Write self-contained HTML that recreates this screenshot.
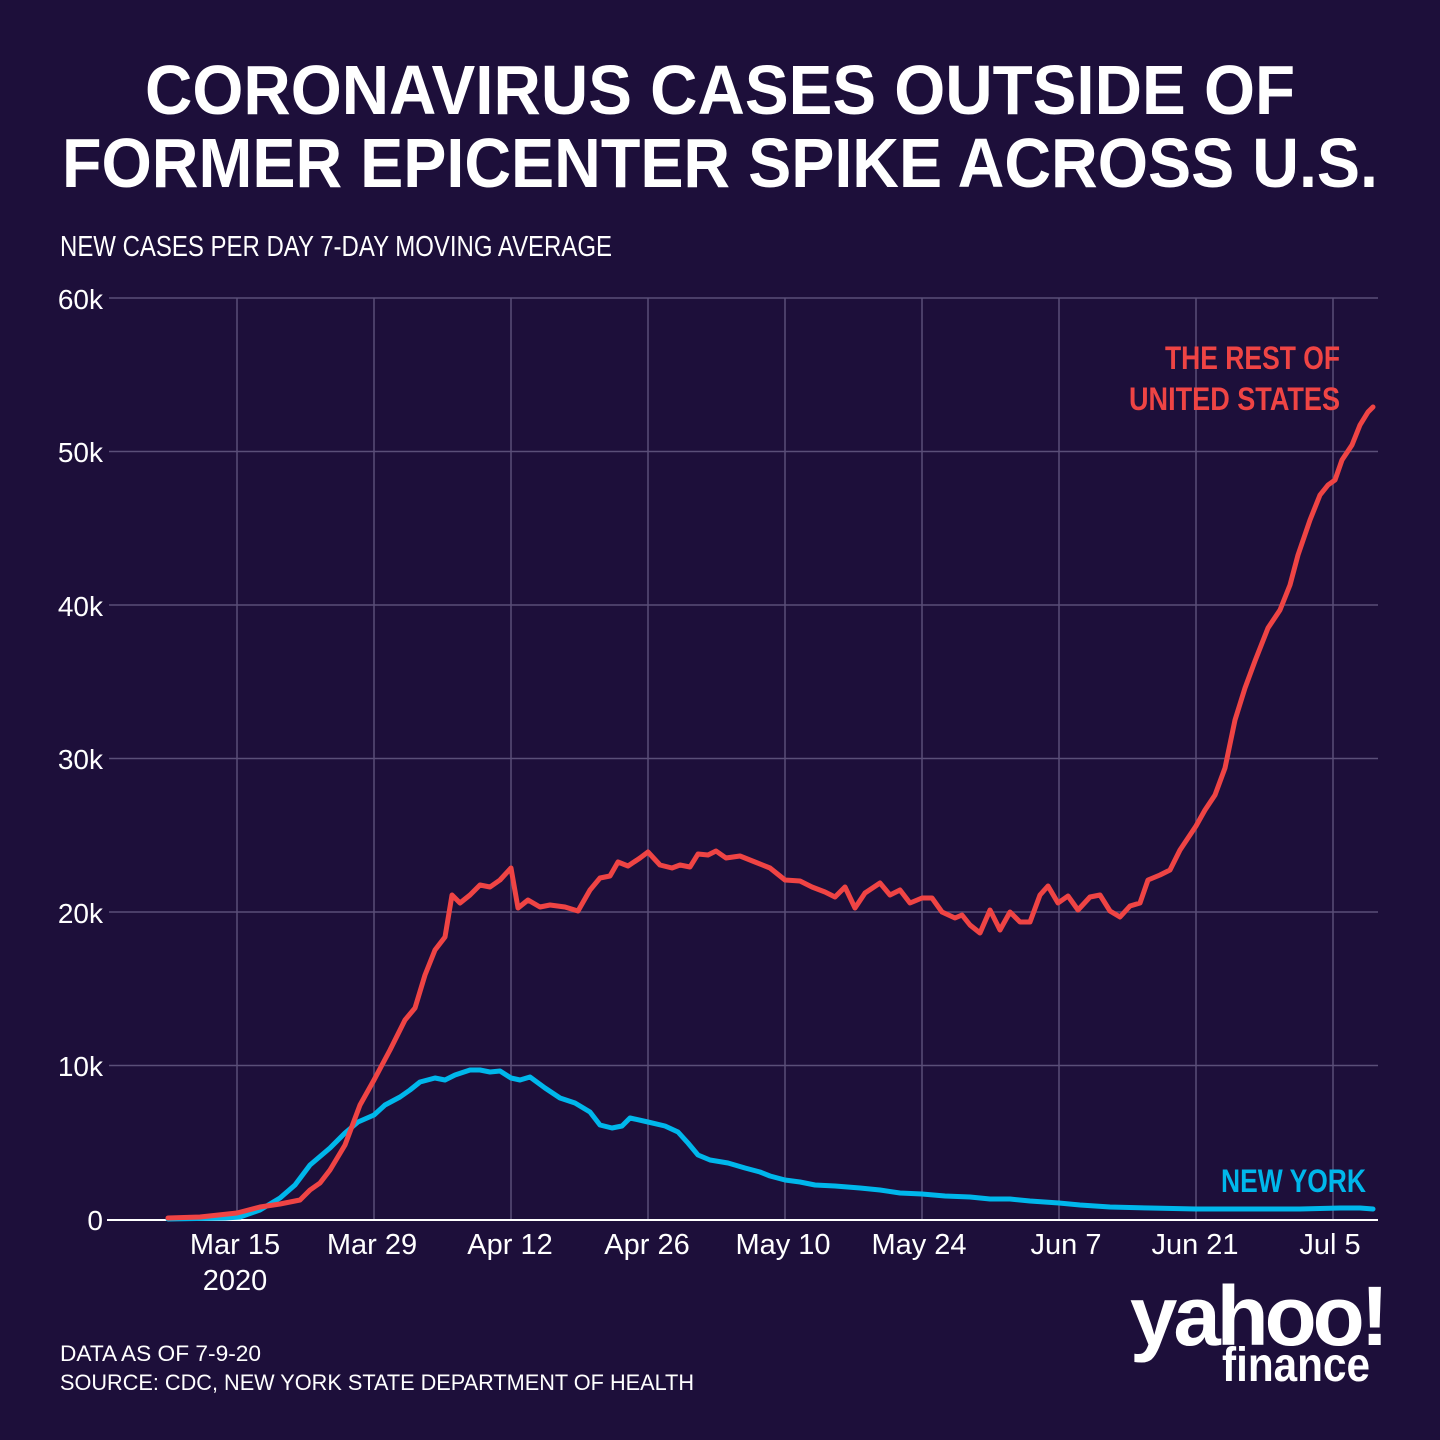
<!DOCTYPE html>
<html><head><meta charset="utf-8"><style>
html,body{margin:0;padding:0;background:#1d0f3a;}
svg{display:block;}
</style></head><body>
<svg width="1440" height="1440" viewBox="0 0 1440 1440" xmlns="http://www.w3.org/2000/svg">
<rect width="1440" height="1440" fill="#1d0f3a"/>
<g font-family="Liberation Sans, sans-serif" fill="#fff">
<text x="720" y="114" font-size="70" font-weight="bold" text-anchor="middle" textLength="1150" lengthAdjust="spacingAndGlyphs">CORONAVIRUS CASES OUTSIDE OF</text>
<text x="720" y="187" font-size="70" font-weight="bold" text-anchor="middle" textLength="1316" lengthAdjust="spacingAndGlyphs">FORMER EPICENTER SPIKE ACROSS U.S.</text>
<text x="60" y="256" font-size="29" textLength="552" lengthAdjust="spacingAndGlyphs">NEW CASES PER DAY 7-DAY MOVING AVERAGE</text>
</g>
<g stroke="#5a4f78" stroke-width="1.5">
<line x1="109" y1="298" x2="1378" y2="298"/>
<line x1="109" y1="451.5" x2="1378" y2="451.5"/>
<line x1="109" y1="605" x2="1378" y2="605"/>
<line x1="109" y1="758.5" x2="1378" y2="758.5"/>
<line x1="109" y1="912" x2="1378" y2="912"/>
<line x1="109" y1="1065.5" x2="1378" y2="1065.5"/>
<line x1="237" y1="298" x2="237" y2="1219"/>
<line x1="374" y1="298" x2="374" y2="1219"/>
<line x1="511" y1="298" x2="511" y2="1219"/>
<line x1="648" y1="298" x2="648" y2="1219"/>
<line x1="785" y1="298" x2="785" y2="1219"/>
<line x1="922" y1="298" x2="922" y2="1219"/>
<line x1="1059" y1="298" x2="1059" y2="1219"/>
<line x1="1196" y1="298" x2="1196" y2="1219"/>
<line x1="1333" y1="298" x2="1333" y2="1219"/>
</g>
<line x1="107" y1="1220" x2="1378" y2="1220" stroke="#fff" stroke-width="2"/>
<g font-family="Liberation Sans, sans-serif" fill="#fff" font-size="28" text-anchor="end">
<text x="103" y="309">60k</text>
<text x="103" y="462">50k</text>
<text x="103" y="616">40k</text>
<text x="103" y="769">30k</text>
<text x="103" y="923">20k</text>
<text x="103" y="1076">10k</text>
<text x="103" y="1230">0</text>
</g>
<g font-family="Liberation Sans, sans-serif" fill="#fff" font-size="29" text-anchor="middle">
<text x="235" y="1254">Mar 15</text>
<text x="235" y="1290">2020</text>
<text x="372" y="1254">Mar 29</text>
<text x="510" y="1254">Apr 12</text>
<text x="647" y="1254">Apr 26</text>
<text x="783" y="1254">May 10</text>
<text x="919" y="1254">May 24</text>
<text x="1066" y="1254">Jun 7</text>
<text x="1195" y="1254">Jun 21</text>
<text x="1330" y="1254">Jul 5</text>
</g>
<polyline fill="none" stroke="#00b7eb" stroke-width="5" stroke-linejoin="round" stroke-linecap="round" points="168,1219 225,1218 240,1217 260,1210 280,1198 295,1185 310,1165 330,1148 345,1133 358,1122 374,1115 385,1105 400,1097 410,1090 420,1082 435,1078 445,1080 455,1075 470,1070 480,1070 490,1072 500,1071 511,1078 520,1080 530,1077 545,1088 560,1098 575,1103 590,1112 600,1125 612,1128 622,1126 630,1118 648,1122 665,1126 678,1132 688,1143 698,1155 710,1160 728,1163 745,1168 760,1172 770,1176 785,1180 800,1182 815,1185 835,1186 860,1188 880,1190 900,1193 922,1194 945,1196 970,1197 990,1199 1010,1199 1030,1201 1059,1203 1080,1205 1110,1207 1150,1208 1196,1209 1250,1209 1300,1209 1340,1208 1360,1208 1373,1209"/>
<polyline fill="none" stroke="#ef4444" stroke-width="5" stroke-linejoin="round" stroke-linecap="round" points="168,1218 200,1217 237,1213 260,1207 280,1204 300,1200 310,1190 320,1183 330,1170 345,1145 360,1105 374,1080 390,1050 405,1020 415,1008 425,975 435,950 445,937 452,895 460,903 470,895 480,885 490,887 500,880 511,868 518,908 528,900 540,907 550,905 565,907 578,911 590,890 600,878 610,876 618,862 628,866 640,858 648,852 660,865 672,868 680,865 690,867 698,854 708,855 716,851 726,858 740,856 755,862 770,868 785,880 800,881 812,887 825,892 835,897 845,887 855,908 865,893 880,883 890,895 900,890 910,903 922,898 932,898 942,912 955,918 962,915 970,925 980,933 990,910 1000,930 1010,912 1020,922 1030,922 1040,895 1048,886 1058,903 1068,896 1078,910 1090,897 1100,895 1110,911 1120,917 1130,906 1140,903 1148,880 1160,875 1170,870 1180,850 1196,826 1205,810 1215,795 1225,768 1235,720 1245,688 1255,661 1268,628 1280,610 1290,585 1298,555 1310,520 1320,495 1328,485 1335,480 1342,460 1352,445 1360,425 1368,412 1373,407"/>
<g font-family="Liberation Sans, sans-serif" font-weight="bold" font-size="32" text-anchor="end">
<text x="1340" y="369" fill="#ef4444" textLength="175" lengthAdjust="spacingAndGlyphs">THE REST OF</text>
<text x="1340" y="410" fill="#ef4444" textLength="211" lengthAdjust="spacingAndGlyphs">UNITED STATES</text>
<text x="1366" y="1192" fill="#00b7eb" textLength="145" lengthAdjust="spacingAndGlyphs">NEW YORK</text>
</g>
<g font-family="Liberation Sans, sans-serif" fill="#fff" font-size="22">
<text x="60" y="1361" textLength="201" lengthAdjust="spacingAndGlyphs">DATA AS OF 7-9-20</text>
<text x="60" y="1390" textLength="634" lengthAdjust="spacingAndGlyphs">SOURCE:  CDC, NEW YORK STATE DEPARTMENT OF HEALTH</text>
</g>
<g font-family="Liberation Sans, sans-serif" fill="#fff" font-weight="bold">
<text x="1130" y="1345" font-size="84" textLength="255" lengthAdjust="spacingAndGlyphs" letter-spacing="-4">yahoo!</text>
<text x="1222" y="1381" font-size="48" textLength="148" lengthAdjust="spacingAndGlyphs">finance</text>
</g>
</svg>
</body></html>
